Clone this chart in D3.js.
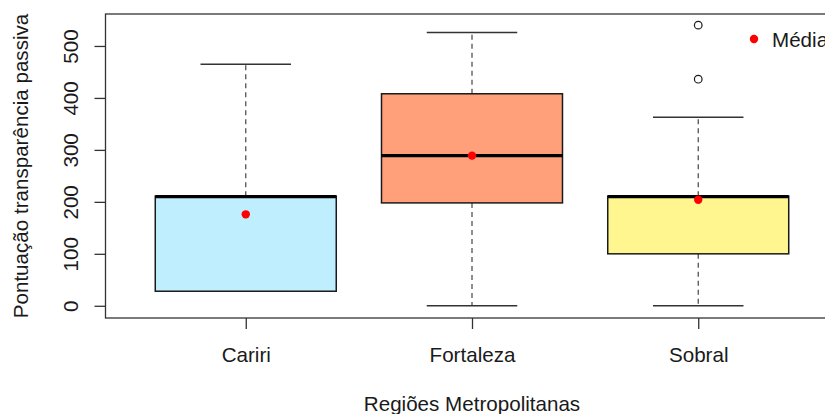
<!DOCTYPE html>
<html>
<head>
<meta charset="utf-8">
<script src="https://cdn.jsdelivr.net/npm/d3@7"></script>
<style>
  html, body { margin: 0; padding: 0; background: #ffffff; }
  svg { display: block; font-family: "Liberation Sans", Arial, sans-serif; }
</style>
</head>
<body>
<svg id="chart" width="825" height="414"></svg>
<script>
// Boxplot summary per metropolitan region
const categories   = ["Cariri", "Fortaleza", "Sobral"];
const lowerWhisker = [28, 0, 0];
const q1           = [28, 198, 100];
const median       = [210, 289, 210];
const q3           = [211, 408, 211];
const upperWhisker = [465, 526, 363];
const means        = [176, 289, 204];
const outliers     = [[], [], [436, 540]];
const fills        = ["#BFEFFF", "#FFA07A", "#FFF68F"];
const yTicks       = [0, 100, 200, 300, 400, 500];

const svg = d3.select("#chart");

// Plot region (right edge runs past the canvas)
const plotL = 105.5, plotR = 838.5, plotT = 14, plotB = 318;

const x = d3.scaleLinear().domain([0.38, 3.62]).range([plotL, plotR]);
const y = d3.scaleLinear().domain([-23.5, 561.5]).range([plotB, plotT]);

const boxW = x(1.4) - x(1);     // half of 0.8 box width
const stapleW = boxW / 2;
const ink = "#1a1a1a";
const fs = 20.6;

const g = svg.append("g");

const data = categories.map((c, i) => ({
  cat: c, i: i + 1,
  lo: lowerWhisker[i], q1: q1[i], med: median[i], q3: q3[i], hi: upperWhisker[i],
  mean: means[i], out: outliers[i], fill: fills[i]
}));

// whiskers (dashed)
g.selectAll(".wh-up").data(data).enter().append("line")
  .attr("x1", d => x(d.i)).attr("x2", d => x(d.i))
  .attr("y1", d => y(d.q3)).attr("y2", d => y(d.hi))
  .attr("stroke", "#444").attr("stroke-width", 1.2).attr("stroke-dasharray", "5,4");
g.selectAll(".wh-lo").data(data).enter().append("line")
  .attr("x1", d => x(d.i)).attr("x2", d => x(d.i))
  .attr("y1", d => y(d.q1)).attr("y2", d => y(d.lo))
  .attr("stroke", "#444").attr("stroke-width", 1.2).attr("stroke-dasharray", "5,4");

// staples
["hi", "lo"].forEach(k => {
  g.selectAll(".st-" + k).data(data).enter().append("line")
    .attr("x1", d => x(d.i) - stapleW).attr("x2", d => x(d.i) + stapleW)
    .attr("y1", d => y(d[k])).attr("y2", d => y(d[k]))
    .attr("stroke", "#333").attr("stroke-width", 1.5);
});

// boxes
g.selectAll(".box").data(data).enter().append("rect")
  .attr("x", d => x(d.i) - boxW).attr("width", 2 * boxW)
  .attr("y", d => y(d.q3)).attr("height", d => y(d.q1) - y(d.q3))
  .attr("fill", d => d.fill).attr("stroke", ink).attr("stroke-width", 1.5);

// medians
g.selectAll(".med").data(data).enter().append("line")
  .attr("x1", d => x(d.i) - boxW).attr("x2", d => x(d.i) + boxW)
  .attr("y1", d => y(d.med)).attr("y2", d => y(d.med))
  .attr("stroke", "#000").attr("stroke-width", 3.2);

// outliers
data.forEach(d => {
  g.selectAll(null).data(d.out).enter().append("circle")
    .attr("cx", x(d.i)).attr("cy", v => y(v)).attr("r", 3.8)
    .attr("fill", "none").attr("stroke", ink).attr("stroke-width", 1.2);
});

// means
g.selectAll(".mean").data(data).enter().append("circle")
  .attr("cx", d => x(d.i)).attr("cy", d => y(d.mean)).attr("r", 4.2)
  .attr("fill", "#FF0000");

// frame
svg.append("rect")
  .attr("x", plotL).attr("y", plotT).attr("width", plotR - plotL).attr("height", plotB - plotT)
  .attr("fill", "none").attr("stroke", "#333").attr("stroke-width", 1.3);

// y axis
const yAxis = svg.append("g").attr("transform", `translate(${plotL},0)`)
  .call(d3.axisLeft(y).tickValues(yTicks).tickSize(11).tickPadding(0).tickFormat(d3.format("d")));
yAxis.select(".domain").remove();
yAxis.selectAll(".tick line").attr("stroke", "#333").attr("stroke-width", 1.3);
yAxis.selectAll(".tick text")
  .attr("x", 0).attr("y", 0).attr("dy", null)
  .attr("transform", "translate(-28,0) rotate(-90)")
  .attr("text-anchor", "middle")
  .attr("font-size", fs).attr("fill", ink).attr("font-family", "Liberation Sans, Arial, sans-serif");

// x axis
const xAxis = svg.append("g").attr("transform", `translate(0,${plotB})`)
  .call(d3.axisBottom(x).tickValues([1, 2, 3]).tickSize(11).tickPadding(0)
    .tickFormat(v => categories[v - 1]));
xAxis.select(".domain").remove();
xAxis.selectAll(".tick line").attr("stroke", "#333").attr("stroke-width", 1.3);
xAxis.selectAll(".tick text")
  .attr("y", 44).attr("dy", null)
  .attr("font-size", fs).attr("fill", ink).attr("font-family", "Liberation Sans, Arial, sans-serif");

// axis titles
svg.append("text")
  .attr("x", x(2)).attr("y", 411)
  .attr("text-anchor", "middle").attr("font-size", fs).attr("fill", ink)
  .text("Regiões Metropolitanas");

svg.append("text")
  .attr("transform", `translate(28,${(plotT + plotB) / 2}) rotate(-90)`)
  .attr("text-anchor", "middle").attr("font-size", fs).attr("fill", ink)
  .text("Pontuação transparência passiva");

// legend
const legend = svg.append("g").attr("transform", "translate(754,39)");
legend.append("circle").attr("r", 4.2).attr("fill", "#FF0000");
legend.append("text").attr("x", 18).attr("y", 8)
  .attr("font-size", fs).attr("fill", ink).text("Média");
</script>
</body>
</html>
